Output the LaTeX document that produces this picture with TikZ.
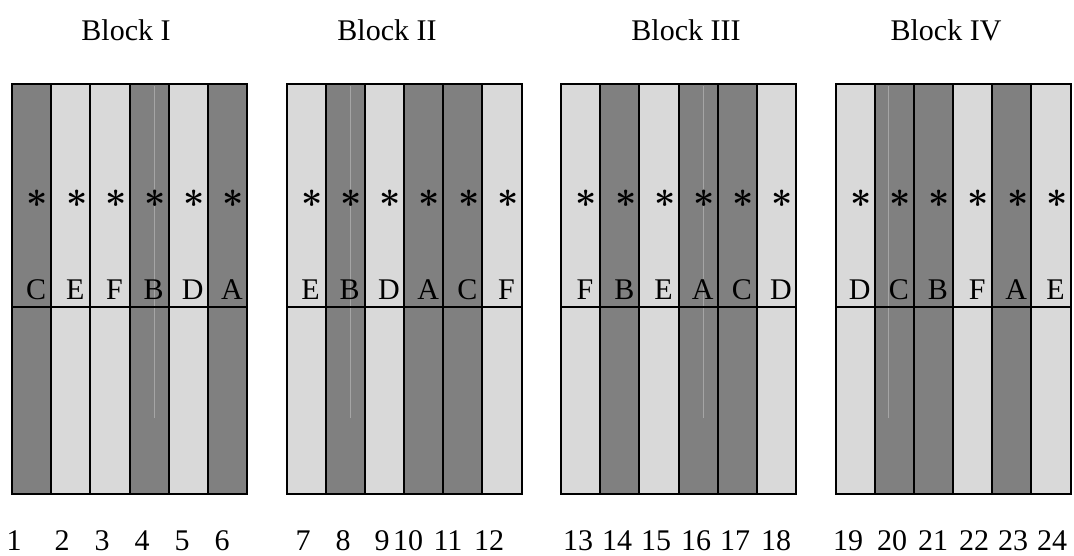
\documentclass[tikz,border=0pt]{standalone}
\usepackage{graphicx}
\usepackage{fontspec}
\setmainfont{Liberation Serif}
\definecolor{stripedark}{RGB}{128,128,128}
\definecolor{stripelight}{RGB}{217,217,217}
\definecolor{streak}{RGB}{165,165,165}
\begin{document}
\begin{tikzpicture}[x=1pt,y=-1pt,
  stripe A/.style={fill=stripedark},
  stripe B/.style={fill=stripedark},
  stripe C/.style={fill=stripedark},
  stripe D/.style={fill=stripelight},
  stripe E/.style={fill=stripelight},
  stripe F/.style={fill=stripelight},
  rule/.style={draw=black,line width=2pt},
  txt/.style={font=\fontsize{30}{36}\selectfont,inner sep=0pt,anchor=base},
  startxt/.style={inner sep=0pt,anchor=center}]
\useasboundingbox (0,0) rectangle (1074,555);

% block titles
\node[txt] (t1) at (126,40) {Block I};
\node[txt] (t2) at (387,40) {Block II};
\node[txt] (t3) at (686,40) {Block III};
\node[txt] (t4) at (946,40) {Block IV};

\def\blocks{1/12/{C,E,F,B,D,A},2/286.5/{E,B,D,A,C,F},3/561/{F,B,E,A,C,D},4/835.5/{D,C,B,F,A,E}}

% plot fills
\foreach \b/\xo/\seq in \blocks{
  \foreach \L [count=\i] in \seq {
    \pgfmathsetmacro{\xl}{\xo+(\i-1)*235/6}
    \pgfmathsetmacro{\xr}{\xo+\i*235/6}
    \fill[stripe \L] (\xl,84) rectangle (\xr,494);
  }
}

% faint streaks inside some dark plots
\foreach \xs in {154,350,703,888}{
  \draw[streak,line width=0.6pt] (\xs,86) -- (\xs,418);
}

% plot borders, markers and treatment letters
\foreach \b/\xo/\seq in \blocks{
  \foreach \i in {1,...,5}{
    \pgfmathsetmacro{\xs}{\xo+\i*235/6}
    \draw[rule] (\xs,84) -- (\xs,494);
  }
  \draw[rule] (\xo,307) -- (\xo+235,307);
  \draw[rule] (\xo,84) rectangle (\xo+235,494);
  \foreach \L [count=\i] in \seq {
    \pgfmathsetmacro{\xc}{\xo+(\i-0.5)*235/6}
    \node[startxt] (s\b\i) at (\xc+6,199) {\scalebox{3.7}{\boldmath$\ast$}};
    \node[txt] (l\b\i) at (\xc+4.5,299) {\L};
  }
}

% plot numbers
\foreach \n/\xc in {1/14,2/62,3/102,4/142,5/182,6/222,
                    7/303,8/343,9/382,10/408,11/448,12/489,
                    13/578,14/617,15/656,16/696,17/735,18/776,
                    19/848,20/892,21/933,22/974,23/1013,24/1052}{
  \node[txt] (n\n) at (\xc,550) {\n};
}
\end{tikzpicture}
\end{document}
